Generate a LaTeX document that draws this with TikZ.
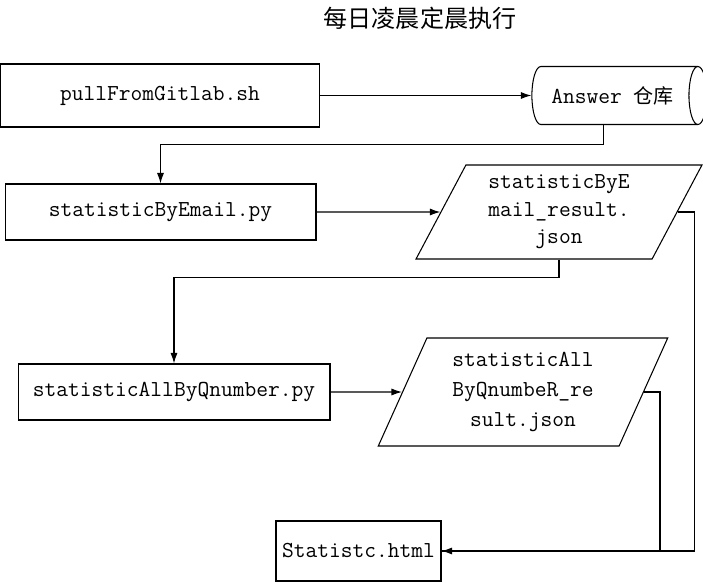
\documentclass[tikz,border=0pt]{standalone}
\usepackage{fontspec}
\newfontfamily\cjk{Noto Sans CJK SC}
\usetikzlibrary{shapes.geometric,arrows.meta}

\begin{document}
\begin{tikzpicture}[x=0.02cm, y=-0.02cm, line width=0.6pt,
    >={Latex[length=6pt,width=4pt]},
    font=\fontsize{13}{15.7}\selectfont\ttfamily,
    procbox/.style={draw, rectangle, inner sep=2pt},
    databox/.style={draw, trapezium, trapezium stretches=true, align=center,
                    inner sep=2pt},
    repobox/.style={draw, cylinder, shape aspect=0.7, inner sep=2pt}]
  \useasboundingbox (0,0) rectangle (703,582);

  \node (title) at (420,18) {\fontsize{13.7}{16}\selectfont\cjk 每日凌晨定晨执行};

  \node (pull) [procbox, minimum width=6.4cm, minimum height=1.26cm]
               at (160,95.5) {pullFromGitlab.sh};
  \node (repo) [repobox, minimum width=1.16cm, minimum height=3.5cm]
               at (612.5,95.5) {Answer {\fontsize{11.4}{14}\selectfont\cjk 仓库}};

  \node (email) [procbox, minimum width=6.22cm, minimum height=1.12cm]
                at (160.5,212) {statisticByEmail.py};
  \node (emailres) [databox, minimum width=5.72cm, minimum height=1.88cm,
                    trapezium left angle=64, trapezium right angle=116]
                   at (559,212) {statisticByE\\mail\_result.\\json};

  \node (qnum) [procbox, minimum width=6.24cm, minimum height=1.12cm]
               at (174,392) {statisticAllByQnumber.py};
  \node (qnumres) [databox, minimum width=5.8cm, minimum height=2.16cm,
                   trapezium left angle=66.5, trapezium right angle=113.5,
                   font=\fontsize{13}{17}\selectfont\ttfamily]
                  at (523,392) {statisticAll\\ByQnumbeR\_re\\sult.json};

  \node (html) [procbox, minimum width=3.3cm, minimum height=1.2cm]
               at (358.5,551) {Statistc.html};

  \draw[->] (pull) -- (repo);
  \draw[->] ([xshift=-0.18cm]repo.south) -- ++(0,19) -| (email.north);
  \draw[->] (email) -- (emailres);
  \draw[->] (emailres.south) -- ++(0,18) -| (qnum.north);
  \draw[->] (qnum) -- (qnumres);
  \draw[->] (emailres.east) -- ++(17,0) |- (html.east);
  \draw (qnumres.east) -- ++(16,0) |- (html.east);
\end{tikzpicture}
\end{document}
